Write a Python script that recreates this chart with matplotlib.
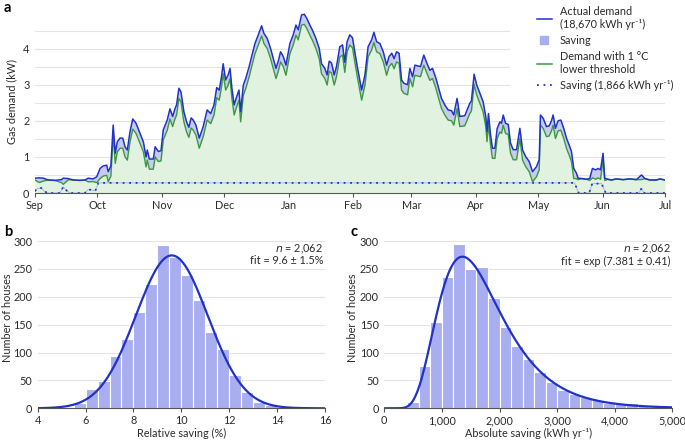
import numpy as np
import matplotlib
matplotlib.use("Agg")
import matplotlib.pyplot as plt
from matplotlib.lines import Line2D
from matplotlib.patches import Rectangle

plt.rcParams['font.family'] = ['Lato', 'DejaVu Sans']
plt.rcParams['font.size'] = 7.5

# ---------------- Panel a data (day 0 = 1 Sep) ----------------
days = [0.0, 2.0, 4.0, 6.4, 9.6, 12.8, 13.6, 16.0, 18.4, 21.6, 24.0, 25.6, 28.0, 29.7,
        31.3, 32.8, 34.5, 35.2, 36.5, 37.6, 38.6, 39.6, 40.9, 42.2, 43.3, 44.4, 45.7,
        47.0, 48.6, 50.5, 52.1, 53.4, 54.0, 55.0, 56.9, 57.8, 59.3, 60.6, 61.7, 63.6,
        64.9, 66.2, 67.3, 68.1, 69.2, 70.2, 71.6, 72.9, 74.0, 75.1, 76.1, 77.4, 79.0,
        80.9, 82.8, 84.5, 86.1, 87.4, 88.6, 89.7, 90.5, 91.7, 92.9, 93.8, 94.7, 95.8,
        97.0, 98.1, 98.9, 100.2, 101.4, 103.0, 104.2, 105.8, 107.4, 109.0, 110.1, 111.7,
        113.3, 114.6, 115.9, 117.0, 118.1, 119.4, 120.7, 122.6, 124.2, 125.5, 126.6,
        128.2, 129.5, 130.6, 132.2, 133.5, 135.1, 136.7, 137.8, 139.4, 140.5, 141.5,
        142.6, 143.9, 145.0, 146.6, 147.9, 149.0, 150.1, 151.4, 152.7, 153.4, 155.0,
        157.1, 158.7, 160.2, 161.9, 163.0, 164.3, 165.9, 167.5, 169.1, 170.3, 171.6,
        172.7, 173.9, 175.1, 176.3, 177.4, 179.2, 180.3, 181.6, 182.7, 185.4, 187.0,
        188.3, 189.9, 191.2, 192.8, 193.9, 195.5, 197.1, 198.7, 200.3, 201.4, 203.0,
        204.3, 206.7, 209.1, 209.9, 211.2, 212.4, 213.9, 215.5, 216.8, 217.4, 218.1,
        219.1, 220.0, 221.2, 222.3, 223.6, 224.4, 225.2, 226.3, 227.6, 228.7, 230.0,
        231.6, 233.2, 234.5, 236.1, 237.7, 239.3, 241.2, 242.5, 243.1, 244.4, 246.0,
        247.3, 248.4, 249.2, 250.3, 251.6, 252.9, 254.3, 255.6, 256.9, 258.0, 259.1,
        260.4, 261.2, 263.0, 265.2, 266.8, 268.1, 269.7, 270.8, 272.0, 273.2, 274.0,
        275.5, 277.2, 279.6, 282.8, 286.1, 289.3, 291.7, 293.3, 295.7, 298.9, 300.5,
        303.0]
actual = [0.41, 0.42, 0.41, 0.36, 0.35, 0.37, 0.41, 0.40, 0.36, 0.35, 0.36, 0.41, 0.39, 0.45,
          0.68, 0.75, 0.77, 0.59, 0.75, 1.88, 1.10, 1.42, 1.52, 1.52, 1.28, 1.19, 1.70,
          2.05, 1.93, 1.65, 1.42, 1.00, 1.19, 0.94, 0.94, 1.28, 1.15, 1.17, 1.75, 2.02,
          2.33, 2.12, 2.33, 2.44, 2.90, 2.80, 2.25, 1.97, 1.82, 2.08, 2.02, 1.88, 1.52,
          1.84, 2.30, 2.20, 2.44, 2.92, 2.85, 3.22, 3.58, 3.13, 3.27, 3.45, 2.90, 2.44,
          2.67, 2.85, 2.25, 2.99, 3.18, 3.50, 3.78, 4.14, 4.38, 4.63, 4.42, 4.28,
          4.00, 3.72, 3.45, 3.65, 3.91, 3.78, 3.54, 4.14, 4.38, 4.65, 4.52,
          4.93, 4.95, 4.85, 4.65, 4.50, 4.28, 4.00, 3.58, 3.45, 3.27, 3.65,
          3.60, 3.27, 3.50, 4.05, 4.10, 3.62, 4.19, 4.38, 4.30, 4.05, 3.50,
          2.85, 3.27, 4.05, 4.24, 4.45, 4.19, 4.14, 3.91, 3.54, 3.78, 3.87,
          3.72, 3.91, 3.87, 3.13, 3.04, 3.00, 3.45, 3.22, 3.54, 3.50, 3.82,
          3.62, 3.40, 3.45, 3.18, 2.95, 2.62, 2.44, 2.30, 2.28, 2.16, 2.62,
          2.12, 2.14, 2.48, 2.55, 3.29, 3.00, 2.77, 2.53, 2.12, 1.70, 2.20,
          1.61, 1.24, 1.24, 1.79, 1.97, 1.93, 2.16, 1.93, 1.90, 1.38, 1.20,
          1.20, 1.79, 1.19, 1.00, 0.87, 0.59, 0.73, 0.92, 2.16, 2.07, 1.84,
          1.86, 2.00, 2.16, 1.79, 2.00, 2.02, 1.79, 1.52, 1.33, 1.15, 0.68,
          0.55, 0.41, 0.40, 0.38, 0.40, 0.68, 0.64, 0.68, 0.64, 1.10, 0.41,
          0.38, 0.36, 0.39, 0.37, 0.39, 0.37, 0.50, 0.40, 0.36, 0.36, 0.39,
          0.36]
saving_days = [0, 1, 3, 4.5, 6, 12, 13.6, 15.5, 17, 24, 25.6, 27.5, 29, 30.5,
               259.5, 261.5, 266.5, 268, 272.5, 274.5, 290.5, 291.7, 293, 303]
saving = [0.05, 0.12, 0.14, 0.05, 0.0, 0.0, 0.17, 0.05, 0.0, 0.0, 0.10, 0.08, 0.06, 0.28,
          0.28, 0.0, 0.0, 0.26, 0.26, 0.0, 0.0, 0.13, 0.0, 0.0]
month_days = [0, 30, 61, 91, 122, 153, 181, 212, 242, 273, 303]
month_labels = ['Sep', 'Oct', 'Nov', 'Dec', 'Jan', 'Feb', 'Mar', 'Apr', 'May', 'Jun', 'Jul']

# ---------------- Panel b data ----------------
rel_edges = [5.0, 5.5, 6.0, 6.5, 7.0, 7.5, 8.0, 8.5, 9.0, 9.5, 10.0, 10.5, 11.0, 11.5,
             12.0, 12.5, 13.0, 13.5, 14.0, 14.5]
rel_counts = [3, 10, 35, 49, 93, 124, 173, 223, 293, 271, 239, 194, 137, 106, 59, 30, 12, 6, 2]
rel_mu, rel_sigma = 9.6, 1.5

# ---------------- Panel c data ----------------
abs_edges = [400, 600, 800, 1000, 1200, 1400, 1600, 1800, 2000, 2200, 2400, 2600, 2800,
             3000, 3200, 3400, 3600, 3800, 4000, 4200, 4400, 4600, 4800, 5000]
abs_counts = [12, 76, 154, 236, 295, 250, 253, 198, 146, 112, 88, 65, 48, 33, 25, 20, 14,
              10, 9, 9, 5, 4, 3]
abs_mu, abs_sigma = 7.381, 0.41
n_houses = 2062

# ---------------- styles ----------------
BLUE = '#2032c8'
GREEN = '#3b9a3b'
GREEN_FILL = '#e1f3e0'
LAV = '#c7caf1'
BAR = '#a9aef0'
GRID = '#e4e4e4'
TXT = '#2b2b2b'
AX = '#555555'
FS = 7.8

W, H = 685, 440
fig = plt.figure(figsize=(W / 100, H / 100), dpi=100)

def frac(l, t, r, b):
    return [l / W, 1 - b / H, (r - l) / W, (b - t) / H]

def ftext(x, y, s, **kw):
    return fig.text(x / W, 1 - y / H, s, color=TXT, fontsize=FS, **kw)

def style(ax):
    for s in ['top', 'right', 'left']:
        ax.spines[s].set_visible(False)
    ax.spines['bottom'].set_color(AX)
    ax.spines['bottom'].set_linewidth(0.8)
    ax.tick_params(axis='y', length=0, colors=TXT, labelsize=FS, pad=4)
    ax.tick_params(axis='x', length=3, width=0.8, color=AX, colors=TXT, labelsize=FS, pad=2)
    ax.grid(axis='y', color=GRID, lw=0.8)
    ax.set_axisbelow(True)

# ---------------- Panel a ----------------
axa = fig.add_axes(frac(35, 11, 665, 193))
style(axa)
d = np.array(days)
act = np.array(actual)
sav = np.interp(d, saving_days, saving)
low = act - sav
# white area behind the legend that hides the upper gridlines
axa.add_patch(Rectangle((510 / W, 1 - 93 / H), 175 / W, 93 / H, transform=fig.transFigure,
                        facecolor='white', edgecolor='none', zorder=0.9, clip_on=False))
axa.fill_between(d, 0, low, color=GREEN_FILL, lw=0, zorder=1)
axa.fill_between(d, low, act, color=LAV, lw=0, zorder=1)
axa.plot(d, low, color=GREEN, lw=1.0, zorder=3)
axa.plot(d, act, color=BLUE, lw=1.1, zorder=4)
axa.plot(saving_days, saving, color=BLUE, lw=0.6, alpha=0.35, zorder=2)
axa.plot(saving_days, saving, color=BLUE, lw=1.3, ls=(0, (1, 2.6)), zorder=2)
axa.set_xlim(0, 303)
axa.set_ylim(0, 5.04)
axa.set_yticks(np.arange(0, 5.0, 0.5))
axa.set_yticklabels(['0', '', '1', '', '2', '', '3', '', '4', ''])
axa.set_xticks(month_days)
axa.set_xticklabels(month_labels)
ftext(12, 102, 'Gas demand (kW)', rotation=90, ha='center', va='center')

handles = [
    Line2D([], [], color=BLUE, lw=1.1),
    Line2D([], [], color=BAR, marker='s', ls='none', markersize=6),
    Line2D([], [], color=GREEN, lw=1.1),
    Line2D([], [], color=BLUE, lw=1.3, ls=(0, (1, 2.6))),
]
labels = ['Actual demand\n(18,670 kWh yr\u207b\u00b9)', 'Saving',
          'Demand with 1 °C\nlower threshold', 'Saving (1,866 kWh yr\u207b\u00b9)']
leg = fig.legend(handles, labels, loc='upper left', bbox_to_anchor=(533 / W, 1 - 2 / H),
                 frameon=False, fontsize=FS, handlelength=1.4, handletextpad=0.7,
                 labelspacing=0.45, borderpad=0.35, borderaxespad=0)
for t in leg.get_texts():
    t.set_color(TXT)
    t.set_linespacing(1.25)

# ---------------- Panels b & c ----------------
def hist_panel(l, r, ylab_x, edges, counts, xcurve, ycurve, xlim, xticks, xticklabels,
               xlabel, fit_text):
    ax = fig.add_axes(frac(l, 241, r, 408.3))
    style(ax)
    e = np.array(edges, dtype=float)
    ax.bar(e[:-1], counts, width=np.diff(e), align='edge', color=BAR,
           edgecolor='white', linewidth=0.8, zorder=2)
    ax.plot(xcurve, ycurve, color=BLUE, lw=1.6, zorder=3)
    ax.set_xlim(*xlim)
    ax.set_ylim(0, 300)
    ax.set_yticks([0, 50, 100, 150, 200, 250, 300])
    ax.set_xticks(xticks)
    ax.set_xticklabels(xticklabels)
    ftext(ylab_x, 318, 'Number of houses', rotation=90, ha='center', va='center')
    ftext((l + r) / 2, 433.5, xlabel, ha='center', va='center')
    ftext(r - 2, 249, '$n$ = 2,062', ha='right', va='center')
    ftext(r - 2, 261, fit_text, ha='right', va='center')
    return ax

xb = np.linspace(4, 16, 400)
bw_b = rel_edges[1] - rel_edges[0]
yb = n_houses * bw_b / (rel_sigma * np.sqrt(2 * np.pi)) * np.exp(-0.5 * ((xb - rel_mu) / rel_sigma) ** 2)
hist_panel(37.7, 325, 8, rel_edges, rel_counts, xb, yb, (4, 16),
           [4, 6, 8, 10, 12, 14, 16], ['4', '6', '8', '10', '12', '14', '16'],
           'Relative saving (%)', 'fit = 9.6 ± 1.5%')

xc = np.linspace(1, 5000, 600)
bw_c = abs_edges[1] - abs_edges[0]
yc = n_houses * bw_c / (xc * abs_sigma * np.sqrt(2 * np.pi)) * np.exp(-0.5 * ((np.log(xc) - abs_mu) / abs_sigma) ** 2)
hist_panel(384.3, 672.3, 353, abs_edges, abs_counts, xc, yc, (0, 5000),
           [0, 1000, 2000, 3000, 4000, 5000], ['0', '1,000', '2,000', '3,000', '4,000', '5,000'],
           'Absolute saving (kWh yr\u207b\u00b9)', 'fit = exp (7.381 ± 0.41)')

# panel labels
for lab, x, y in [('a', 4, 8), ('b', 4, 232), ('c', 350, 232)]:
    fig.text(x / W, 1 - y / H, lab, fontsize=10.5, fontweight='bold', va='center', ha='left',
             color='black')

fig.savefig('out.png', dpi=100)
